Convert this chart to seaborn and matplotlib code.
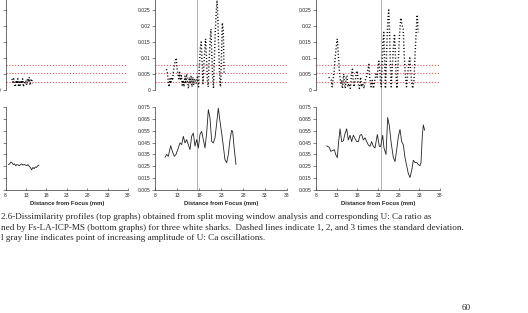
import matplotlib
matplotlib.use("Agg")
import matplotlib.pyplot as plt
import seaborn as sns

# axis ticks
x_ticks = [8, 13, 18, 23, 28, 33, 38]
top_yticks = [0, 0.005, 0.01, 0.015, 0.02, 0.025, 0.03]
top_ylabels = ["0", "0.005", "0.01", "0.015", "0.02", "0.025", "0.03"]
bot_yticks = [0.005, 0.015, 0.025, 0.035, 0.045, 0.055, 0.065, 0.075]
bot_ylabels = ["0.005", "0.015", "0.025", "0.035", "0.045", "0.055", "0.065", "0.075"]

# 1, 2 and 3 times the standard deviation
sd_levels = [0.0026, 0.0052, 0.0078]
# point of increasing amplitude (mm), none for shark 1
shift_mm = [None, 17.5, 23.8]

# shark 1
dis1_x = [9.6, 9.8, 10.0, 10.2, 10.4, 10.6, 10.8, 11.0, 11.2, 11.4, 11.6, 11.8, 12.0,
          12.2, 12.4, 12.6, 12.8, 13.0, 13.2, 13.4, 13.6, 13.8, 14.0, 14.2, 14.4, 14.6]
dis1_y = [0.0035, 0.0025, 0.0035, 0.0015, 0.001, 0.003, 0.002, 0.0035, 0.001, 0.0025,
          0.0015, 0.003, 0.002, 0.0035, 0.001, 0.0025, 0.002, 0.003, 0.0015, 0.0035,
          0.0025, 0.004, 0.0015, 0.003, 0.0035, 0.002]
uca1_x = [8.7, 9.0, 9.3, 9.6, 9.9, 10.2, 10.5, 10.8, 11.1, 11.4, 11.7, 12.0, 12.3,
          12.6, 12.9, 13.2, 13.5, 13.8, 14.1, 14.4, 14.7, 15.0, 15.3, 15.6, 15.9, 16.2]
uca1_y = [0.0265, 0.027, 0.0285, 0.028, 0.0265, 0.027, 0.0255, 0.0265, 0.026, 0.0255,
          0.0265, 0.027, 0.026, 0.0265, 0.026, 0.0255, 0.0265, 0.025, 0.024, 0.022,
          0.024, 0.023, 0.0245, 0.024, 0.0255, 0.026]

# shark 2
dis2_x = [10.6, 10.8, 11.0, 11.2, 11.4, 11.6, 11.8, 12.0, 12.2, 12.5, 12.8, 13.0, 13.2,
          13.4, 13.6, 13.8, 14.0, 14.2, 14.4, 14.6, 14.8, 15.0, 15.2, 15.4, 15.6, 15.8,
          16.0, 16.2, 16.4, 16.6, 16.8, 17.0, 17.3, 17.6, 17.9, 18.1, 18.3, 18.5, 18.7,
          18.9, 19.1, 19.3, 19.5, 19.7, 19.9, 20.1, 20.3, 20.5, 20.7, 20.9, 21.1, 21.3,
          21.5, 21.7, 21.9, 22.1, 22.3, 22.5, 22.7, 22.9, 23.1, 23.3, 23.5, 23.6, 23.7]
dis2_y = [0.0065, 0.0055, 0.003, 0.001, 0.0035, 0.002, 0.004, 0.003, 0.006, 0.0085,
          0.010, 0.007, 0.005, 0.0035, 0.0055, 0.003, 0.0045, 0.0015, 0.003, 0.001,
          0.0045, 0.002, 0.005, 0.0025, 0.0005, 0.004, 0.002, 0.0045, 0.001, 0.004,
          0.0015, 0.0035, 0.002, 0.004, 0.001, 0.008, 0.013, 0.015, 0.009, 0.002,
          0.007, 0.0125, 0.016, 0.010, 0.003, 0.001, 0.009, 0.015, 0.019, 0.012,
          0.004, 0.0005, 0.010, 0.018, 0.024, 0.028, 0.022, 0.012, 0.004, 0.001,
          0.010, 0.021, 0.019, 0.013, 0.005]
uca2_x = [10.27, 10.65, 11.03, 11.56, 11.94, 12.39, 12.77, 13.3, 13.68, 14.06, 14.44,
          14.82, 15.2, 15.58, 15.95, 16.33, 16.71, 17.09, 17.47, 17.85, 18.23, 18.6,
          18.98, 19.36, 19.74, 20.12, 20.5, 20.88, 21.26, 21.64, 22.02, 22.39, 22.77,
          23.15, 23.53, 23.9, 24.29, 24.67, 25.05, 25.42, 25.65, 25.95, 26.4]
uca2_y = [0.0326, 0.035, 0.0334, 0.0424, 0.0376, 0.0334, 0.035, 0.0405, 0.0447, 0.0433,
          0.0503, 0.0447, 0.0475, 0.0433, 0.039, 0.0503, 0.053, 0.042, 0.0475, 0.0405,
          0.052, 0.0545, 0.0475, 0.0405, 0.053, 0.0728, 0.0657, 0.046, 0.0447, 0.049,
          0.0615, 0.074, 0.063, 0.053, 0.042, 0.0306, 0.028, 0.035, 0.0475, 0.0553,
          0.0545, 0.042, 0.0264]

# shark 3
dis3_x = [11.1, 11.4, 11.7, 11.9, 12.1, 12.4, 12.7, 13.0, 13.15, 13.4, 13.6, 13.8, 14.0,
          14.2, 14.4, 14.7, 14.9, 15.1, 15.3, 15.5, 15.7, 16.0, 16.3, 16.6, 16.8, 17.0,
          17.2, 17.5, 17.8, 18.0, 18.2, 18.5, 18.8, 19.0, 19.3, 19.6, 19.9, 20.2, 20.5,
          20.8, 21.0, 21.3, 21.6, 21.9, 22.2, 22.5, 22.8, 23.0, 23.2, 23.4, 23.6, 23.8,
          24.0, 24.2, 24.4, 24.6, 24.8, 25.0, 25.2, 25.4, 25.6, 25.8, 26.0, 26.2, 26.4,
          26.7, 27.0, 27.2, 27.4, 27.6, 27.9, 28.2, 28.5, 28.8, 29.1, 29.3, 29.6, 29.9,
          30.2, 30.5, 30.7, 30.9, 31.2, 31.4, 31.7, 32.0, 32.3, 32.5, 32.7]
dis3_y = [0.004, 0.0035, 0.003, 0.001, 0.003, 0.006, 0.011, 0.0145, 0.016, 0.011,
          0.007, 0.004, 0.002, 0.003, 0.0005, 0.005, 0.002, 0.0005, 0.004, 0.0045,
          0.001, 0.002, 0.0005, 0.005, 0.0065, 0.003, 0.001, 0.003, 0.0055, 0.006,
          0.002, 0.0005, 0.004, 0.001, 0.002, 0.0005, 0.003, 0.004, 0.006, 0.008,
          0.004, 0.001, 0.003, 0.0005, 0.003, 0.005, 0.004, 0.007, 0.009, 0.006,
          0.003, 0.001, 0.008, 0.015, 0.018, 0.009, 0.0005, 0.008, 0.016, 0.022,
          0.025, 0.018, 0.008, 0.001, 0.006, 0.013, 0.0175, 0.011, 0.004, 0.0005,
          0.009, 0.017, 0.0225, 0.0205, 0.019, 0.012, 0.005, 0.001, 0.005, 0.009,
          0.010, 0.006, 0.002, 0.0005, 0.003, 0.012, 0.020, 0.0235, 0.018]
uca3_x = [10.58, 11.23, 11.55, 12.03, 12.44, 12.76, 13.16, 13.48, 13.81, 14.21, 14.61,
          15.02, 15.42, 15.82, 16.23, 16.63, 17.03, 17.44, 17.84, 18.24, 18.65, 19.05,
          19.45, 19.86, 20.26, 20.66, 21.07, 21.47, 21.87, 22.27, 22.84, 23.32, 23.65,
          24.13, 24.45, 24.94, 25.34, 25.74, 26.15, 26.71, 27.11, 27.52, 27.92, 28.32,
          28.73, 29.13, 29.53, 29.94, 30.34, 30.74, 31.15, 31.55, 31.95, 32.36, 32.76,
          33.16, 33.4, 33.73, 33.97, 34.29]
uca3_y = [0.0423, 0.041, 0.0377, 0.0382, 0.039, 0.035, 0.0323, 0.0458, 0.0566, 0.0458,
          0.0464, 0.0526, 0.0566, 0.0472, 0.0512, 0.0458, 0.0512, 0.0485, 0.0458, 0.0458,
          0.0512, 0.0518, 0.0472, 0.0491, 0.0458, 0.0431, 0.0418, 0.0458, 0.0418, 0.0404,
          0.0518, 0.0418, 0.0418, 0.0512, 0.0404, 0.035, 0.0661, 0.0593, 0.0458, 0.0323,
          0.029, 0.039, 0.0499, 0.0561, 0.0458, 0.0431, 0.0323, 0.0255, 0.0188, 0.0155,
          0.0215, 0.0301, 0.0282, 0.0282, 0.0264, 0.0255, 0.0282, 0.0512, 0.0599, 0.0553]

dis_x = [dis1_x, dis2_x, dis3_x]
dis_y = [dis1_y, dis2_y, dis3_y]
uca_x = [uca1_x, uca2_x, uca3_x]
uca_y = [uca1_y, uca2_y, uca3_y]

sns.set_style("white")
plt.rcParams["font.family"] = ["Liberation Sans", "DejaVu Sans"]

W, H = 528, 313
fig = plt.figure(figsize=(W / 100, H / 100), dpi=100)

# panel left/right edges in pixels
cols = [(5.5, 128), (155, 287), (316, 440)]

def box(x0, x1, ytop, ybot):
    return [x0 / W, 1 - ybot / H, (x1 - x0) / W, (ybot - ytop) / H]

for i, (x0, x1) in enumerate(cols):
    ax_t = fig.add_axes(box(x0, x1, -6, 90))
    ax_b = fig.add_axes(box(x0, x1, 107, 190))

    # dissimilarity profile
    for lvl in sd_levels:
        ln = ax_t.axhline(lvl, color="#e8525a", linestyle=(0, (1, 1.6)), linewidth=0.8)
        ln.set_snap(True)
    sns.lineplot(x=dis_x[i], y=dis_y[i], ax=ax_t, color="black",
                 linestyle=(0, (0.7, 1.5)), linewidth=1.05)
    ax_t.set_xlim(8, 38)
    ax_t.set_ylim(0, 0.03)
    ax_t.set_yticks(top_yticks)
    ax_t.set_yticklabels(top_ylabels)
    ax_t.set_xticks([])
    for s in ["top", "right", "bottom"]:
        ax_t.spines[s].set_visible(False)

    # U:Ca ratio
    sns.lineplot(x=uca_x[i], y=uca_y[i], ax=ax_b, color="#222222", linewidth=0.6)
    ax_b.set_xlim(8, 38)
    ax_b.set_ylim(0.005, 0.075)
    ax_b.set_xticks(x_ticks)
    ax_b.set_xticklabels([str(t) for t in x_ticks])
    ax_b.set_yticks(bot_yticks)
    ax_b.set_yticklabels(bot_ylabels)
    ax_b.set_xlabel("Distance from Focus (mm)", fontsize=4.2, fontweight="bold", labelpad=2.5)
    for s in ["top", "right"]:
        ax_b.spines[s].set_visible(False)

    for ax in (ax_t, ax_b):
        ax.set_ylabel("")
        ax.spines["left"].set_linewidth(0.5)
        ax.spines["bottom"].set_linewidth(0.5)
        ax.spines["left"].set_color("#333333")
        ax.spines["bottom"].set_color("#333333")
        ax.tick_params(axis="y", direction="out", length=2, width=0.4, pad=1.5,
                       labelsize=3.6, left=True)
        ax.tick_params(axis="x", direction="in", length=1.5, width=0.4, pad=2,
                       labelsize=3.6, bottom=True)
        ax.patch.set_alpha(0)

    if shift_mm[i] is not None:
        gap = 17 / 96
        ax_t.axvline(shift_mm[i], ymin=-gap, ymax=1, color="#b0b0b0", linewidth=0.7,
                     clip_on=False, zorder=0)
        ax_b.axvline(shift_mm[i], color="#b0b0b0", linewidth=0.7, zorder=0)

caption = [
    "2.6-Dissimilarity profiles (top graphs) obtained from split moving window analysis and corresponding U: Ca ratio as",
    "ned by Fs-LA-ICP-MS (bottom graphs) for three white sharks.  Dashed lines indicate 1, 2, and 3 times the standard deviation.",
    "l gray line indicates point of increasing amplitude of U: Ca oscillations.",
]
for k, line in enumerate(caption):
    fig.text(1 / W, 1 - (217 + 10.5 * k) / H, line, fontsize=6.55,
             family=["Liberation Serif", "DejaVu Serif"], va="center", ha="left")
fig.text(466 / W, 1 - 308 / H, "60", fontsize=6.55,
         family=["Liberation Serif", "DejaVu Serif"], va="center", ha="center")

fig.savefig("out.png", dpi=100)
